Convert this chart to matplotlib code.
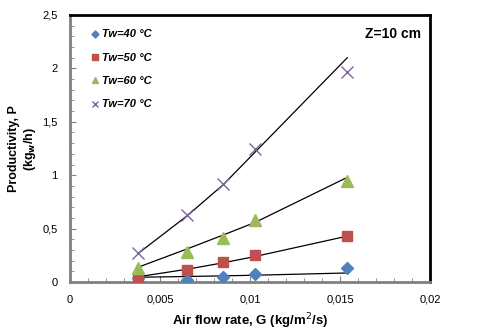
import matplotlib
matplotlib.use("Agg")
import matplotlib.pyplot as plt
from matplotlib.ticker import MultipleLocator, FuncFormatter

plt.rcParams['font.family'] = ['Liberation Sans', 'DejaVu Sans']

# Air flow rate G (kg/m2/s)
G = [0.0038, 0.0065, 0.0085, 0.0103, 0.0154]

# Measured productivity (kg_w/h)
tw40 = [0.04, 0.02, 0.05, 0.075, 0.13]
tw50 = [0.05, 0.11, 0.19, 0.25, 0.43]
tw60 = [0.13, 0.28, 0.41, 0.58, 0.95]
tw70 = [0.27, 0.63, 0.92, 1.25, 1.97]

# Model curves
m40 = [0.045, 0.052, 0.058, 0.064, 0.085]
m50 = [0.05, 0.12, 0.18, 0.24, 0.43]
m60 = [0.14, 0.31, 0.44, 0.56, 0.98]
m70 = [0.27, 0.62, 0.91, 1.22, 2.10]

labels = ['Tw=40 °C', 'Tw=50 °C', 'Tw=60 °C', 'Tw=70 °C']
xticks = [0, 0.005, 0.01, 0.015, 0.02]
yticks = [0, 0.5, 1, 1.5, 2, 2.5]

fig = plt.figure(figsize=(4.8, 3.33), dpi=100)
ax = fig.add_axes([0.146, 0.153, 0.75, 0.802])

for m in (m40, m50, m60, m70):
    ax.plot(G, m, color='black', lw=0.9, zorder=2)

ax.plot(G, tw40, ls='none', marker='D', ms=6, color='#4F81BD', label=labels[0], zorder=3)
ax.plot(G, tw50, ls='none', marker='s', ms=7, color='#C0504D', label=labels[1], zorder=3)
ax.plot(G, tw60, ls='none', marker='^', ms=8, color='#9BBB59', label=labels[2], zorder=3)
ax.plot(G, tw70, ls='none', marker='x', ms=8, mew=1.0, color='#8064A2', label=labels[3], zorder=3)

ax.set_xlim(0, 0.02)
ax.set_ylim(0, 2.5)
ax.set_xticks(xticks)
ax.set_yticks(yticks)
ax.xaxis.set_minor_locator(MultipleLocator(0.001))
ax.yaxis.set_minor_locator(MultipleLocator(0.1))

fmt = FuncFormatter(lambda v, p: ('%g' % v).replace('.', ','))
ax.xaxis.set_major_formatter(fmt)
ax.yaxis.set_major_formatter(fmt)

ax.tick_params(axis='both', which='both', direction='in', labelsize=8, color='#808080')
ax.tick_params(axis='both', which='major', length=4)
ax.tick_params(axis='both', which='minor', length=3)
ax.tick_params(axis='x', which='both', pad=9, top=False)
ax.tick_params(axis='y', which='both', pad=9, right=False)

ax.spines['left'].set_color('#808080')
ax.spines['bottom'].set_color('#808080')
ax.spines['left'].set_linewidth(2)
ax.spines['bottom'].set_linewidth(2)
ax.spines['top'].set_color('black')
ax.spines['right'].set_color('black')
ax.spines['top'].set_linewidth(2)
ax.spines['right'].set_linewidth(2)

ax.set_xlabel('Air flow rate, G (kg/m$^2$/s)', fontsize=9.5, fontweight='bold', labelpad=5)
ax.set_ylabel('Productivity, P\n(kg$_\\mathbf{w}$/h)', fontsize=9, fontweight='bold', labelpad=3)

leg = ax.legend(loc='upper left', bbox_to_anchor=(0.035, 0.975), frameon=False,
                prop={'size': 8, 'weight': 'bold', 'style': 'italic'}, markerscale=0.6,
                handlelength=0.8, handletextpad=0.2, labelspacing=1.2, borderaxespad=0.3)

ax.text(0.975, 0.93, 'Z=10 cm', transform=ax.transAxes, ha='right', va='center',
        fontsize=10, fontweight='bold')

fig.savefig('out.png', dpi=100)
